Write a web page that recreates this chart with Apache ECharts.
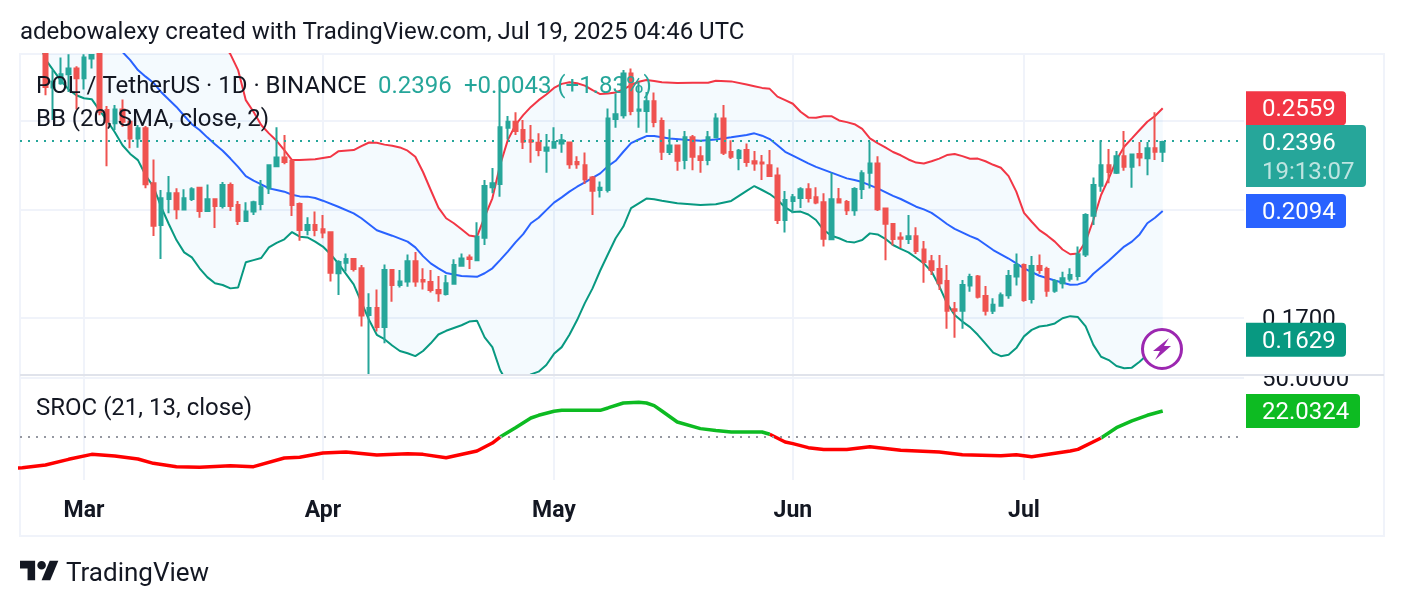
<!DOCTYPE html>
<html>
<head>
<meta charset="utf-8">
<style>html,body{margin:0;padding:0;background:#fff}#chart{width:1404px;height:606px}</style>
<script src="https://cdn.jsdelivr.net/npm/echarts@6/dist/echarts.min.js"></script>
</head>
<body>
<div id="chart"></div>
<script>
// POL/USDT daily candles, 24 Feb to 19 Jul 2025
const firstCandle = '02-24';
const opens = [
  .2845,.2665,.2687,.2735,.2766,
  .2713,.2820,.2845,.2550,.2485,.2553,.2493,.2413,.2461,.2211,.2038,.2144,.2168,.2101,.2144,.2192,.2094,.2143,.2115,.2203,.2119,.2054,.2092,.2123,.2189,.2286,.2325,.2310,.2123,.2018,.2038,
  .2021,.2009,.1855,.1893,.1907,.1873,.1710,.1733,.1670,.1867,.1813,.1825,.1899,.1831,.1824,.1795,.1781,.1817,.1882,.1913,.1903,.1988,.2194,.2208,.2464,.2493,.2453,.2405,.2393,.2356,
  .2369,.2389,.2394,.2305,.2290,.2236,.2182,.2182,.2506,.2525,.2739,.2547,.2545,.2595,.2496,.2350,.2380,.2313,.2418,.2331,.2313,.2418,.2509,.2350,.2323,.2359,.2308,.2302,.2290,.2245,.2058,
  .2136,.2148,.2185,.2151,.2130,.1982,.2143,.2132,.2098,.2186,.2257,.2298,.2105,.2042,.1989,.1983,.1994,.1943,.1899,.1870,.1827,.1729,.1724,.1811,.1843,.1774,.1724,.1741,.1777,.1843,
  .1885,.1764,.1881,.1870,.1793,.1819,.1835,.1845,.1924,.2075,.2200,.2290,.2257,.2331,.2283,.2341,.2322,.2367,.2351
];
const closes = [
  .2667,.2695,.2735,.2766,.2713,
  .2826,.2840,.2542,.2493,.2553,.2493,.2413,.2461,.2207,.2035,.2147,.2168,.2102,.2147,.2185,.2094,.2143,.2115,.2203,.2115,.2054,.2092,.2130,.2194,.2290,.2325,.2305,.2119,.2018,.2038,.2018,
  .2008,.1857,.1896,.1907,.1870,.1708,.1733,.1670,.1867,.1813,.1825,.1899,.1825,.1825,.1795,.1784,.1819,.1885,.1909,.1907,.1992,.2199,.2211,.2466,.2493,.2448,.2397,.2397,.2359,.2371,
  .2396,.2405,.2295,.2295,.2228,.2179,.2192,.2509,.2530,.2739,.2545,.2553,.2595,.2491,.2351,.2380,.2310,.2418,.2328,.2313,.2418,.2509,.2347,.2328,.2356,.2305,.2298,.2298,.2242,.2058,.2140,
  .2151,.2185,.2148,.2129,.1984,.2143,.2129,.2098,.2186,.2254,.2298,.2102,.2043,.1983,.1984,.1994,.1937,.1896,.1867,.1819,.1724,.1724,.1813,.1841,.1772,.1724,.1744,.1777,.1845,.1885,
  .1761,.1881,.1867,.1793,.1827,.1837,.1849,.1925,.2078,.2203,.2290,.2260,.2331,.2283,.2339,.2325,.2367,.2351,.2396
];
const lows = [
  .2625,.2501,.2680,.2642,.2553,
  .2655,.2766,.2525,.2286,.2453,.2469,.2367,.2370,.2189,.1995,.1907,.2085,.2061,.2098,.2136,.2067,.2094,.2026,.2105,.2094,.2038,.2054,.2078,.2098,.2165,.2283,.2295,.2074,.1976,.1998,.1994,
  .1986,.1825,.1778,.1861,.1861,.1672,.1522,.1656,.1618,.1755,.1804,.1807,.1807,.1797,.1787,.1755,.1776,.1817,.1881,.1870,.1903,.1960,.2168,.2154,.2408,.2429,.2364,.2301,.2331,.2257,
  .2366,.2347,.2274,.2274,.2208,.2078,.2150,.2171,.2464,.2509,.2525,.2464,.2440,.2466,.2313,.2336,.2265,.2272,.2268,.2257,.2290,.2413,.2336,.2318,.2268,.2283,.2265,.2225,.2239,.2042,.2008,
  .2085,.2107,.2129,.2122,.1954,.1979,.2128,.2078,.2075,.2144,.2188,.2094,.1903,.1958,.1949,.1964,.1926,.1821,.1849,.1795,.1665,.1636,.1665,.1789,.1766,.1708,.1713,.1738,.1765,.1811,
  .1755,.1749,.1853,.1772,.1786,.1801,.1825,.1829,.1915,.2038,.2175,.2211,.2251,.2265,.2192,.2286,.2246,.2313,.2304
];
const highs = [
  .2845,.2757,.2826,.2844,.2778,
  .2844,.2845,.2845,.2570,.2575,.2603,.2493,.2477,.2472,.2316,.2182,.2242,.2189,.2185,.2194,.2196,.2206,.2147,.2216,.2214,.2136,.2130,.2137,.2225,.2295,.2466,.2429,.2313,.2129,.2069,.2092,
  .2078,.2009,.1903,.1928,.1909,.1885,.1784,.1797,.1887,.1870,.1867,.1924,.1933,.1873,.1867,.1845,.1849,.1906,.1928,.1924,.2049,.2225,.2278,.2704,.2521,.2540,.2501,.2477,.2437,.2434,
  .2466,.2434,.2397,.2331,.2348,.2242,.2218,.2558,.2634,.2757,.2766,.2695,.2642,.2639,.2514,.2456,.2380,.2448,.2429,.2377,.2448,.2534,.2575,.2405,.2364,.2389,.2354,.2336,.2359,.2280,.2178,
  .2165,.2194,.2211,.2194,.2168,.2257,.2191,.2140,.2194,.2268,.2397,.2331,.2105,.2045,.2009,.2078,.2029,.1975,.1922,.1922,.1885,.1754,.1831,.1853,.1849,.1809,.1767,.1787,.1867,.1928,
  .1891,.1918,.1924,.1879,.1833,.1860,.1873,.1954,.2085,.2236,.2405,.2364,.2354,.2448,.2341,.2396,.2396,.2540,.2402
];

// Bollinger bands (20, SMA, close, 2)
const upperBand = [
  ['02-23',.35],['03-10',.32],['03-19',.2905],['03-20',.2844],['03-21',.2757],['03-22',.2600],['03-23',.2542],['03-24',.2477],['03-25',.2437],['03-26',.2402],['03-27',.2359],['03-28',.2313],['03-29',.2314],['03-31',.2317],
  ['04-02',.2328],['04-03',.2353],['04-05',.2359],['04-06',.2377],['04-07',.2394],['04-08',.2393],['04-09',.2384],['04-10',.2379],['04-11',.2371],['04-12',.2356],['04-13',.2328],['04-14',.2260],['04-15',.2182],['04-16',.2108],['04-17',.2065],['04-18',.2045],['04-19',.2021],['04-20',.1997],['04-21',.1992],['04-22',.2071],['04-23',.2147],['04-24',.2290],['04-25',.2405],['04-26',.2477],['04-27',.2525],['04-28',.2566],['04-29',.2600],['04-30',.2629],
  ['05-01',.2663],['05-02',.2684],['05-03',.2692],['05-04',.2687],['05-05',.2675],['05-06',.2651],['05-07',.2631],['05-08',.2634],['05-09',.2639],['05-10',.2655],['05-11',.2678],['05-12',.2695],['05-13',.2704],['05-14',.2699],['05-15',.2692],['05-17',.2688],['05-19',.2690],['05-21',.2690],['05-22',.2700],['05-24',.2697],['05-26',.2681],['05-27',.2672],['05-28',.2663],['05-29',.2658],['05-30',.2618],['05-31',.2600],
  ['06-01',.2582],['06-02',.2542],['06-03',.2514],['06-04',.2512],['06-05',.2520],['06-06',.2520],['06-07',.2499],['06-08',.2491],['06-09',.2481],['06-10',.2458],['06-11',.2413],['06-12',.2391],['06-13',.2371],['06-14',.2350],['06-15',.2335],['06-16',.2316],['06-17',.2302],['06-18',.2298],['06-19',.2308],['06-20',.2320],['06-21',.2336],['06-22',.2341],['06-23',.2331],['06-24',.2319],['06-25',.2320],['06-26',.2308],['06-27',.2292],['06-28',.2279],['06-29',.2242],['06-30',.2175],
  ['07-01',.2087],['07-02',.2051],['07-03',.2018],['07-04',.1997],['07-05',.1973],['07-06',.1943],['07-07',.1925],['07-08',.1928],['07-09',.1973],['07-10',.2058],['07-11',.2161],['07-12',.2232],['07-13',.2313],['07-14',.2374],['07-15',.2413],['07-16',.2453],['07-17',.2493],['07-18',.2521],['07-19',.2559]
];
const basisBand = [
  ['03-05',.2895],['03-06',.2856],['03-07',.2811],['03-08',.2757],['03-09',.2722],['03-10',.2690],['03-11',.2642],['03-12',.2603],['03-13',.2566],['03-14',.2522],['03-15',.2481],['03-16',.2453],['03-17',.2418],['03-18',.2386],['03-19',.2356],['03-20',.2320],['03-21',.2283],['03-22',.2242],['03-23',.2222],['03-24',.2206],['03-25',.2189],['03-26',.2182],['03-27',.2175],['03-28',.2162],['03-29',.2155],['03-30',.2154],['03-31',.2148],
  ['04-01',.2137],['04-03',.2112],['04-05',.2085],['04-06',.2065],['04-07',.2041],['04-08',.2017],['04-10',.1996],['04-12',.1973],['04-13',.1951],['04-14',.1918],['04-15',.1891],['04-16',.1873],['04-17',.1856],['04-19',.1845],['04-21',.1842],['04-22',.1855],['04-23',.1873],['04-24',.1903],['04-25',.1935],['04-26',.1970],['04-27',.2002],['04-28',.2045],['04-29',.2067],['04-30',.2098],
  ['05-01',.2129],['05-02',.2151],['05-03',.2175],['05-04',.2196],['05-05',.2215],['05-07',.2254],['05-08',.2286],['05-09',.2310],['05-10',.2351],['05-11',.2391],['05-12',.2408],['05-13',.2424],['05-14',.2424],['05-16',.2413],['05-18',.2407],['05-20',.2402],['05-22',.2408],['05-24',.2418],['05-26',.2429],['05-27',.2437],['05-28',.2426],['05-29',.2410],['05-30',.2381],['05-31',.2351],
  ['06-01',.2333],['06-03',.2298],['06-04',.2283],['06-06',.2257],['06-08',.2232],['06-09',.2225],['06-10',.2216],['06-12',.2189],['06-14',.2157],['06-15',.2144],['06-17',.2112],['06-18',.2101],['06-19',.2087],['06-20',.2065],['06-21',.2042],['06-22',.2023],['06-24',.1994],['06-25',.1982],['06-27',.1941],['06-29',.1909],['06-30',.1891],
  ['07-01',.1873],['07-03',.1846],['07-05',.1829],['07-07',.1814],['07-08',.1815],['07-09',.1824],['07-10',.1853],['07-12',.1901],['07-14',.1954],['07-15',.1973],['07-16',.2001],['07-17',.2045],['07-18',.2067],['07-19',.2094]
];
const lowerBand = [
  ['02-23',.2940],['02-24',.2815],['02-25',.2757],['02-26',.2701],['02-27',.2655],['02-28',.2625],
  ['03-01',.2610],['03-02',.2605],['03-03',.2550],['03-04',.2498],['03-05',.2442],['03-06',.2381],['03-07',.2341],['03-08',.2313],['03-09',.2246],['03-10',.2196],['03-11',.2112],['03-12',.2042],['03-13',.1979],['03-14',.1932],['03-15',.1913],['03-16',.1873],['03-17',.1841],['03-18',.1819],['03-19',.1813],['03-20',.1801],['03-21',.1804],['03-22',.1895],['03-23',.1903],['03-24',.1911],['03-25',.1951],['03-26',.1968],['03-27',.1982],['03-28',.2010],['03-29',.1992],['03-30',.1989],['03-31',.1973],
  ['04-01',.1954],['04-02',.1925],['04-03',.1891],['04-04',.1853],['04-05',.1815],['04-06',.1753],['04-07',.1693],['04-08',.1645],['04-09',.1631],['04-10',.1611],['04-11',.1594],['04-12',.1587],['04-13',.1578],['04-14',.1594],['04-15',.1618],['04-16',.1646],['04-17',.1658],['04-18',.1667],['04-19',.1676],['04-20',.1688],['04-21',.1691],['04-22',.1637],['04-23',.1606],['04-24',.1536],['04-25',.1496],['04-26',.1491],['04-27',.1506],['04-28',.1523],['04-29',.1531],['04-30',.1551],
  ['05-01',.1585],['05-02',.1606],['05-03',.1645],['05-04',.1693],['05-05',.1750],['05-06',.1801],['05-07',.1865],['05-08',.1925],['05-09',.1986],['05-10',.2032],['05-11',.2106],['05-12',.2126],['05-13',.2146],['05-14',.2143],['05-15',.2137],['05-17',.2126],['05-20',.2119],['05-22',.2122],['05-24',.2136],['05-25',.2157],['05-26',.2178],['05-27',.2199],['05-28',.2182],['05-29',.2165],['05-30',.2141],['05-31',.2109],
  ['06-01',.2090],['06-02',.2092],['06-03',.2080],['06-04',.2058],['06-05',.2018],['06-06',.1996],['06-07',.1986],['06-08',.1973],['06-09',.1970],['06-10',.1979],['06-11',.2005],['06-12',.2001],['06-13',.1984],['06-14',.1960],['06-15',.1945],['06-16',.1932],['06-17',.1912],['06-18',.1891],['06-19',.1861],['06-20',.1809],['06-21',.1749],['06-22',.1710],['06-23',.1688],['06-24',.1670],['06-25',.1645],['06-26',.1617],['06-27',.1589],['06-28',.1578],['06-29',.1582],['06-30',.1603],
  ['07-01',.1640],['07-02',.1661],['07-03',.1672],['07-04',.1675],['07-05',.1682],['07-06',.1699],['07-07',.1706],['07-08',.1703],['07-09',.1672],['07-10',.1613],['07-11',.1576],['07-12',.1566],['07-13',.1548],['07-14',.1541],['07-15',.1543],['07-16',.1561],['07-17',.1582],['07-18',.1608],['07-19',.1629]
];

// Smoothed rate of change (21, 13, close)
const srocLine = [
  ['02-20',-26.6],['02-21',-26.0],['02-24',-23.7],['02-27',-18.9],['03-02',-14.7],['03-05',-16.1],['03-08',-18.6],['03-10',-22.3],['03-13',-25.1],['03-16',-25.7],['03-20',-24.3],['03-23',-25.1],['03-27',-17.8],['03-29',-17.2],
  ['04-01',-13.6],['04-04',-12.7],['04-08',-15.3],['04-12',-14.1],['04-14',-14.7],['04-17',-17.5],['04-21',-11.9],['04-23',-5.1],['04-24',0],['04-26',7.9],['04-28',16.1],['04-29',18.4],
  ['05-01',21.8],['05-02',22.6],['05-06',22.6],['05-07',22.6],['05-08',24.6],['05-10',28.8],['05-12',29.4],['05-13',28.8],['05-14',26.6],['05-15',22.0],['05-17',12.7],['05-20',7.1],['05-22',5.6],['05-24',4.2],['05-28',4.2],['05-29',2.3],['05-31',-4.2],
  ['06-01',-5.6],['06-03',-9.0],['06-05',-10.5],['06-08',-10.5],['06-11',-8.2],['06-15',-11.3],['06-20',-12.7],['06-23',-15.0],['06-28',-15.8],['06-30',-15.0],
  ['07-02',-16.7],['07-07',-11.9],['07-08',-10.5],['07-11',-0.8],['07-13',7.9],['07-15',13.6],['07-17',18.4],['07-19',22.0324]
];
// Stretches of the indicator that are drawn green; the rest is red
const srocRising = [['04-24','05-29'],['07-11','07-19']];

const monthTicks = ['03-01','04-01','05-01','06-01','07-01'];
const monthNames = ['Mar','Apr','May','Jun','Jul'];
const priceGrid = [0.17,0.21,0.25];
const priceTick = 0.17;
const srocGrid = [50];
const lastPrice = 0.2396;
const upperLast = 0.2559, basisLast = 0.2094, lowerLast = 0.1629, srocLast = 22.0324;

const FONT = 'Roboto';
const INK = '#131722';
const UP = '#26a69a', DOWN = '#ef5350';
const DAY = 86400000;
const day = s => new Date('2025-' + s + 'T00:00:00').getTime();
const withTime = list => list.map(([d, v]) => [day(d), v]);

const upperPts = withTime(upperBand), basisPts = withTime(basisBand), lowerPts = withTime(lowerBand);
const candles = opens.map((o, i) => [day(firstCandle) + i * DAY, o, closes[i], lows[i], highs[i]]);
const monthValues = monthTicks.map(day);

// Split the indicator into its red and green runs, sharing the boundary points
const risingAt = t => srocRising.some(([a, b]) => t >= day(a) && t <= day(b));
const fallingAt = t => !srocRising.some(([a, b]) => t > day(a) && t < day(b));
const srocGreen = withTime(srocLine).map(([t, v]) => [t, risingAt(t) ? v : null]);
const srocRed = withTime(srocLine).map(([t, v]) => [t, fallingAt(t) && t !== day('07-19') ? v : null]);

const chart = echarts.init(document.getElementById('chart'), null, {renderer: 'canvas'});

// Horizontal scale: 7.705 px per day, with 1 March sitting at x = 84
const xMin = day('03-01') - 64 / 7.705 * DAY;
const xMax = xMin + 1224 / 7.705 * DAY;
const gridLine = {show: true, lineStyle: {color: '#f0f3fa', width: 2, type: 'solid'}};

function baseXAxis(idx, showLabel) {
  return {
    type: 'value', gridIndex: idx, min: xMin, max: xMax, scale: true,
    axisLine: {show: false},
    axisTick: {show: false, customValues: monthValues},
    splitLine: gridLine,
    axisPointer: {show: false},
    axisLabel: showLabel ? {
      show: true, customValues: monthValues, margin: 20, hideOverlap: false,
      fontFamily: FONT, fontSize: 23, fontWeight: 'bold', color: INK,
      formatter: v => monthNames[monthValues.indexOf(+v)]
    } : {show: false}
  };
}

chart.setOption({
  animation: false,
  backgroundColor: '#ffffff',
  grid: [
    {left: 20, width: 1224, top: 54, height: 321},
    {left: 20, width: 1224, top: 375, height: 105}
  ],
  xAxis: [baseXAxis(0, false), baseXAxis(1, true)],
  yAxis: [
    {
      type: 'log', logBase: Math.E, gridIndex: 0, position: 'right', min: 0.1521, max: 0.2845, scale: true,
      axisLine: {show: false},
      axisTick: {show: false, customValues: priceGrid},
      splitLine: gridLine,
      axisLabel: {show: false}
    },
    {
      type: 'value', gridIndex: 1, position: 'right', min: -36.4, max: 52.5,
      axisLine: {show: false},
      axisTick: {show: false, customValues: srocGrid},
      splitLine: gridLine,
      axisLabel: {show: false}
    }
  ],
  series: [
    {
      // Band fill between the upper and lower lines
      type: 'custom', xAxisIndex: 0, yAxisIndex: 0, clip: true, silent: true, z: 1,
      data: [[upperPts[0][0], upperPts[0][1]]],
      renderItem: (params, api) => {
        const pts = upperPts.concat(lowerPts.slice().reverse()).map(p => api.coord(p));
        return {type: 'polygon', shape: {points: pts}, style: {fill: 'rgba(33,150,243,0.05)'}};
      }
    },
    {type: 'line', xAxisIndex: 0, yAxisIndex: 0, data: upperPts, symbol: 'none', z: 2, lineStyle: {color: '#f23645', width: 2}},
    {type: 'line', xAxisIndex: 0, yAxisIndex: 0, data: basisPts, symbol: 'none', z: 2, lineStyle: {color: '#2962ff', width: 2}},
    {type: 'line', xAxisIndex: 0, yAxisIndex: 0, data: lowerPts, symbol: 'none', z: 2, lineStyle: {color: '#089981', width: 2}},
    {
      type: 'candlestick', xAxisIndex: 0, yAxisIndex: 0, data: candles, barWidth: 4, z: 3,
      encode: {x: 0, y: [1, 2, 3, 4]},
      itemStyle: {color: UP, color0: DOWN, borderColor: UP, borderColor0: DOWN, borderWidth: 2},
      markLine: {
        silent: true, symbol: 'none', label: {show: false}, animation: false,
        lineStyle: {color: UP, type: [2, 6], width: 2},
        data: [{yAxis: lastPrice}]
      }
    },
    {
      type: 'line', xAxisIndex: 1, yAxisIndex: 1, data: srocRed, symbol: 'none', z: 3, connectNulls: false,
      lineStyle: {width: 3.5, color: '#ff0000'},
      markLine: {
        silent: true, symbol: 'none', label: {show: false}, animation: false,
        lineStyle: {color: '#9598a1', type: [2, 6], width: 2},
        data: [{yAxis: 0}]
      }
    },
    {
      type: 'line', xAxisIndex: 1, yAxisIndex: 1, data: srocGreen, symbol: 'none', z: 3, connectNulls: false,
      lineStyle: {width: 3.5, color: '#0dbb22'}
    }
  ]
});

// Overlay text, price tags and frame; tags take their height from the axes
const priceY = v => chart.convertToPixel({yAxisIndex: 0}, v);
const srocY = v => chart.convertToPixel({yAxisIndex: 1}, v);

function text(x, y, str, fill, extra, z) {
  return {type: 'text', z: z || 50, silent: true, x, y: y + 2, style: Object.assign({
    text: str, fill, fontFamily: FONT, fontSize: 24, textVerticalAlign: 'middle', textAlign: 'left'
  }, extra || {})};
}
function tag(cy, w, color, label) {
  return [
    {type: 'rect', z: 40, silent: true, shape: {x: 1246, y: cy - 17, width: w, height: 34, r: [0, 4, 4, 0]}, style: {fill: color}},
    text(1262, cy, label, '#ffffff', {})
  ];
}

const lastY = priceY(lastPrice);
chart.setOption({graphic: {elements: [
  // frame and pane divider
  {type: 'rect', z: -1, silent: true, shape: {x: 20, y: 54, width: 1364, height: 482}, style: {fill: 'none', stroke: '#f0f3fa', lineWidth: 2}},

  // scale labels: the upper pane's edge cuts the top off the indicator's label
  text(1262, srocY(srocGrid[0]), srocGrid[0].toFixed(4), INK, {}, 29),
  {type: 'rect', z: 30, silent: true, shape: {x: 1245, y: 357, width: 138, height: 17}, style: {fill: '#ffffff'}},
  text(1262, priceY(priceTick), priceTick.toFixed(4), INK, {}, 35),
  {type: 'rect', z: 31, silent: true, shape: {x: 20, y: 374, width: 1364, height: 2}, style: {fill: '#e0e3eb'}},

  text(20, 31, 'adebowalexy created with TradingView.com, Jul 19, 2025 04:46 UTC', INK),
  text(36, 85, 'POL / TetherUS · 1D · BINANCE', INK),
  text(378, 85, '0.2396', UP),
  text(464, 85, '+0.0043 (+1.83%)', UP),
  text(36, 118, 'BB (20, SMA, close, 2)', INK),
  text(36, 407, 'SROC (21, 13, close)', INK),
  text(66, 572, 'TradingView', INK, {fontSize: 26}),

  ...tag(priceY(upperLast), 100, '#f23645', upperLast.toFixed(4)),
  {type: 'rect', z: 41, silent: true, shape: {x: 1246, y: lastY - 17, width: 120, height: 62, r: [0, 4, 4, 0]}, style: {fill: UP}},
  text(1262, lastY, lastPrice.toFixed(4), '#ffffff'),
  text(1262, lastY + 29, '19:13:07', 'rgba(255,255,255,0.7)'),
  ...tag(priceY(basisLast), 100, '#2962ff', basisLast.toFixed(4)),
  ...tag(priceY(lowerLast), 100, '#089981', lowerLast.toFixed(4)),
  ...tag(srocY(srocLast), 114, '#0dbb22', srocLast.toFixed(4)),

  // lightning badge
  {type: 'circle', z: 45, silent: true, shape: {cx: 1162, cy: 349, r: 19.5}, style: {fill: '#ffffff', stroke: '#9c27b0', lineWidth: 3}},
  {type: 'polygon', z: 46, silent: true, shape: {points: [[1169, 338], [1153, 351], [1160, 351], [1155, 360], [1171, 346], [1164, 346]]}, style: {fill: '#9c27b0'}},

  // wordmark logo
  {type: 'polygon', z: 46, silent: true, x: 20, y: 556.5, scaleX: 1.08, scaleY: 1.08,
   shape: {points: [[0, 4], [14, 4], [14, 22], [7, 22], [7, 11], [0, 11]]}, style: {fill: INK}},
  {type: 'polygon', z: 46, silent: true, x: 20, y: 556.5, scaleX: 1.08, scaleY: 1.08,
   shape: {points: [[20, 22], [27.5, 4], [35.5, 4], [28, 22]]}, style: {fill: INK}},
  {type: 'circle', z: 46, silent: true, shape: {cx: 41.6, cy: 565.2, r: 4.3}, style: {fill: INK}}
]}});
</script>
</body>
</html>
